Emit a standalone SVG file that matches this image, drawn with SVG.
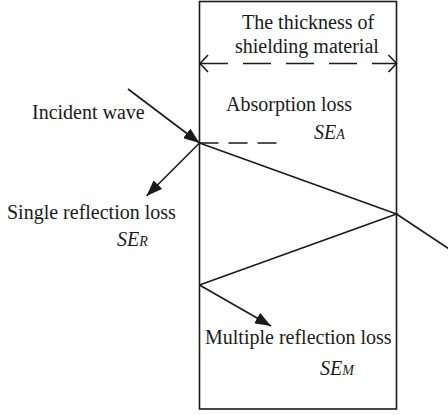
<svg xmlns="http://www.w3.org/2000/svg" width="448" height="415" viewBox="0 0 448 415">
<style>
.t{font-family:"Liberation Serif","Times New Roman",serif;font-size:20px;fill:#1a1a1a}
.i{font-style:italic}
.s{font-size:14px}
.ln{stroke:#1a1a1a;stroke-width:1.6;fill:none}
.d1{stroke-dasharray:28 15}
.d2{stroke-dasharray:19 10}
</style>
<defs>
<marker id="ah" viewBox="0 0 16 12" refX="16" refY="6" markerWidth="16" markerHeight="12" markerUnits="userSpaceOnUse" orient="auto">
<path d="M0,0 L16,6 L0,12 z" fill="#1a1a1a"/>
</marker>
</defs>
<g id="shield">
<rect x="199.5" y="1.5" width="197" height="407.5" class="ln"/>
</g>
<g id="thickness">
<text class="t" x="242" y="29">The thickness of</text>
<text class="t" x="235" y="53">shielding material</text>
<path class="ln" d="M208,55 L200,63.5 L208,72 M388.5,55 L396.5,63.5 L388.5,72"/>
</g>
<g id="incident-label"><text class="t" x="32" y="119">Incident wave</text></g>
<g id="absorption-label">
<text class="t" x="226" y="111">Absorption loss</text>
<text class="t i" x="314" y="139">SE<tspan class="s">A</tspan></text>
</g>
<g id="single-label">
<text class="t" x="7" y="219">Single reflection loss</text>
<text class="t i" x="117" y="246">SE<tspan class="s">R</tspan></text>
</g>
<g id="multiple-label">
<text class="t" x="205" y="344">Multiple reflection loss</text>
<text class="t i" x="320" y="375">SE<tspan class="s">M</tspan></text>
</g>
<g id="connectors">
<line class="ln d1" x1="200" y1="63.5" x2="396.5" y2="63.5"/>
<line class="ln" x1="128" y1="89" x2="199.5" y2="143" marker-end="url(#ah)"/>
<line class="ln d2" x1="199.5" y1="143" x2="278" y2="143"/>
<line class="ln" x1="199.5" y1="143" x2="146.5" y2="196" marker-end="url(#ah)"/>
<polyline class="ln" points="199.5,143 396.5,214 199.5,285"/>
<line class="ln" x1="396.5" y1="214" x2="452" y2="251"/>
<line class="ln" x1="199.5" y1="285" x2="271" y2="326" marker-end="url(#ah)"/>
</g>
</svg>
